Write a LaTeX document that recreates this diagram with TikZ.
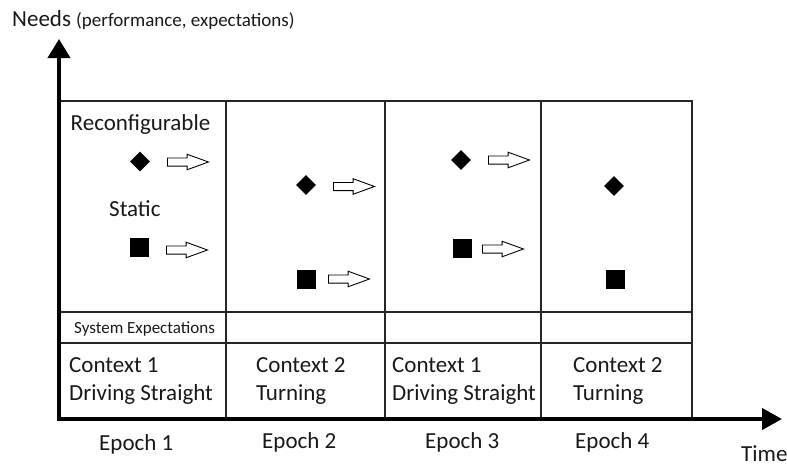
\documentclass[tikz,border=0pt]{standalone}
\usepackage{fontspec}
\setmainfont{Carlito}
\usetikzlibrary{arrows.meta,shapes.geometric,shapes.arrows}
\tikzset{
  lbl/.style={anchor=base west,inner sep=0pt,font=\fontsize{23}{26}\selectfont,text=black!90},
  smalllbl/.style={lbl,font=\fontsize{17}{20}\selectfont},
  grid/.style={line width=1.3pt,draw=black!85},
  axis/.style={line width=4pt,{Triangle[length=19pt,width=22pt]}-{Triangle[length=20pt,width=21pt]}},
  dia/.style={shape=diamond,fill=black,inner sep=0pt,minimum size=20pt},
  sq/.style={shape=rectangle,fill=black,inner sep=0pt,minimum size=19pt},
  openarrow/.style={shape=single arrow,draw=black,fill=white,line width=0.9pt,
    anchor=tail,inner xsep=0pt,inner ysep=3.6pt,text height=0pt,text depth=0pt,
    single arrow head extend=3.7pt,single arrow tip angle=40,minimum height=41pt}
}
\begin{document}
\begin{tikzpicture}[x=1pt,y=-1pt]
\useasboundingbox (0,0) rectangle (787,466);
% grid
\coordinate (tl) at (59,101);
\coordinate (tr) at (692,101);
\coordinate (br) at (692,419);
\coordinate (r1l) at (59,312);
\coordinate (r1r) at (692,312);
\coordinate (r2l) at (59,343);
\coordinate (r2r) at (692,343);
\coordinate (c1t) at (226,101);
\coordinate (c1b) at (226,419);
\coordinate (c2t) at (385,101);
\coordinate (c2b) at (385,419);
\coordinate (c3t) at (541,101);
\coordinate (c3b) at (541,419);
\draw[grid] (tl) -- (tr) -- (br);
\draw[grid] (r1l) -- (r1r);
\draw[grid] (r2l) -- (r2r);
\draw[grid] (c1t) -- (c1b);
\draw[grid] (c2t) -- (c2b);
\draw[grid] (c3t) -- (c3b);
% axes
\coordinate (ytip) at (59,39);
\coordinate (O) at (59,419);
\coordinate (xtip) at (782,419);
\draw[axis] (ytip) -- (O) -- (xtip);
% labels
\node[lbl] (needs) at (12,26) {Needs \fontsize{19}{22}\selectfont(performance, expectations)};
\node[lbl] (reconf) at (70.5,130) {Reconfigurable};
\node[lbl] (static) at (109,216) {Static};
\node[smalllbl] (sysexp) at (74,333) {System Expectations};
\node[lbl] (ctxa1) at (69,372.5) {Context 1};
\node[lbl] (ctxb1) at (69,400) {Driving Straight};
\node[lbl] (ctxa2) at (256,372.5) {Context 2};
\node[lbl] (ctxb2) at (256,400) {Turning};
\node[lbl] (ctxa3) at (392,372.5) {Context 1};
\node[lbl] (ctxb3) at (392,400) {Driving Straight};
\node[lbl] (ctxa4) at (573,372.5) {Context 2};
\node[lbl] (ctxb4) at (573,400) {Turning};
\node[lbl] (ep1) at (99,450) {Epoch 1};
\node[lbl] (ep2) at (262,448) {Epoch 2};
\node[lbl] (ep3) at (425,448) {Epoch 3};
\node[lbl] (ep4) at (575,448) {Epoch 4};
\node[lbl] (time) at (741,461) {Time};
% markers
\node[dia] (d1) at (140,161.5) {};
\node[dia] (d2) at (306,185) {};
\node[dia] (d3) at (461,160) {};
\node[dia] (d4) at (614,186) {};
\node[sq] (s1) at (139,247.5) {};
\node[sq] (s2) at (306.5,279) {};
\node[sq] (s3) at (462.5,248.5) {};
\node[sq] (s4) at (615.5,279.5) {};
% open arrows
\node[openarrow] (a1) at (167,162) {};
\node[openarrow] (a2) at (166,250) {};
\node[openarrow] (a3) at (333,186.5) {};
\node[openarrow] (a4) at (328,279) {};
\node[openarrow] (a5) at (488,160) {};
\node[openarrow] (a6) at (482,249) {};
\end{tikzpicture}
\end{document}
